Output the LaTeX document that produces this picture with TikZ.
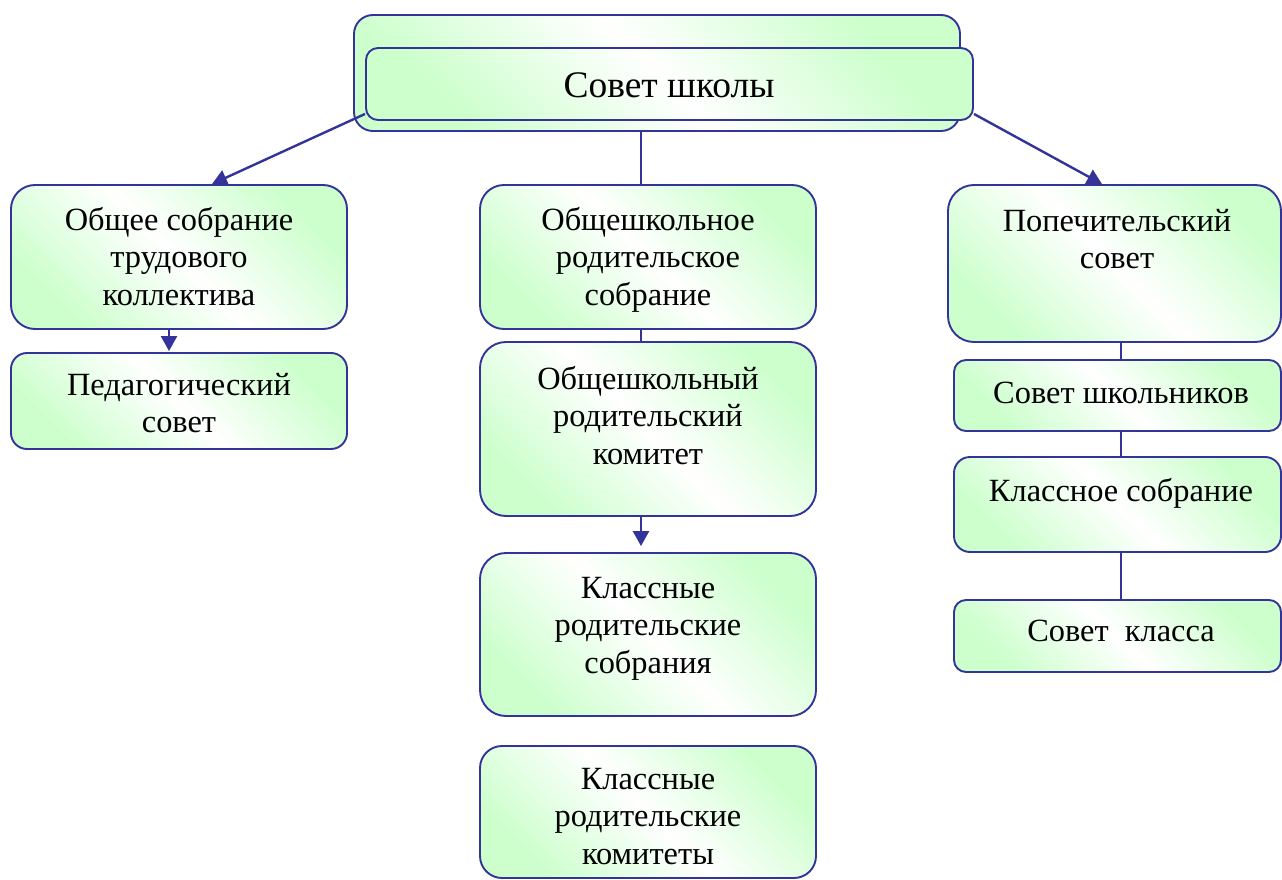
\documentclass[tikz,border=0pt]{standalone}
\usepackage{fontspec}
\setmainfont{Liberation Serif}
\usetikzlibrary{arrows.meta}
\definecolor{lineblue}{RGB}{51,51,153}
\definecolor{ltgreen}{RGB}{204,255,204}
\tikzset{
  box/.style={draw=lineblue, line width=1.9pt, top color=ltgreen, bottom color=ltgreen, middle color=white, shading angle=-45, inner sep=0pt},
  txt/.style={align=center, font=\fontsize{32.4}{37.5}\selectfont, inner sep=0pt, anchor=north},
  link/.style={draw=lineblue, line width=2.4pt},
  arr/.style={link, -{Triangle[length=15pt,width=16pt]}}
}
\newcommand{\bx}[6]{% name, x1, y1, x2, y2, radius
  \node[box, rounded corners=#6, minimum width={(#4-#2)*1pt}, minimum height={(#5-#3)*1pt}] (#1) at ({(#2+#4)/2},{(#3+#5)/2}) {};}
\begin{document}
\begin{tikzpicture}[x=1pt,y=-1pt]
\useasboundingbox (0,0) rectangle (1282,880);
% top
\bx{topback}{354}{15}{960}{131}{19pt}
\bx{top}{366}{48}{973}{120}{12pt}
\node[txt, anchor=center, font=\fontsize{37.5}{42}\selectfont] (toptxt) at (669,85) {Совет школы};
% left
\bx{obsh}{11}{185}{347}{329}{24pt}
\bx{ped}{11}{353}{347}{449}{16pt}
% middle
\bx{osob}{480}{185}{816}{329}{24pt}
\bx{okom}{480}{342}{816}{516}{26pt}
\bx{ksob}{480}{553}{816}{716}{26pt}
\bx{kkom}{480}{746}{816}{878}{22pt}
% right
\bx{pop}{948}{185}{1281}{342}{26pt}
\bx{sshk}{954}{360}{1281}{431}{12pt}
\bx{ksobr}{954}{457}{1281}{552}{16pt}
\bx{skl}{954}{600}{1281}{672}{12pt}
% texts
\node[txt] (t1) at (179,207) {Общее собрание\\трудового\\коллектива};
\node[txt] (t2) at (179,373) {Педагогический\\совет};
\node[txt] (t3) at (648,207) {Общешкольное\\родительское\\собрание};
\node[txt] (t4) at (648,366) {Общешкольный\\родительский\\комитет};
\node[txt] (t5) at (648,577) {Классные\\родительские\\собрания};
\node[txt] (t6) at (648,768) {Классные\\родительские\\комитеты};
\node[txt] (t7) at (1117,209) {Попечительский\\совет};
\node[txt] (t8) at (1121,382) {Совет школьников};
\node[txt] (t9) at (1121,478) {Классное собрание};
\node[txt] (t10) at (1121,620) {Совет\ \ класса};
% connectors
\draw[arr] ([yshift=7pt]top.south west) -- (obsh.north -| 212,0);
\draw[link] (topback.south -| 641,0) -- (osob.north -| 641,0);
\draw[arr] ([yshift=7pt]top.south east) -- (pop.north -| 1102,0);
\draw[arr] (obsh.south -| 169,0) -- ([yshift=1pt]ped.north -| 169,0);
\draw[link] (osob.south -| 641,0) -- (okom.north -| 641,0);
\draw[arr] (okom.south -| 641,0) -- ([yshift=6pt]ksob.north -| 641,0);
\draw[link] (pop.south -| 1121,0) -- (sshk.north -| 1121,0);
\draw[link] (sshk.south -| 1121,0) -- (ksobr.north -| 1121,0);
\draw[link] (ksobr.south -| 1121,0) -- (skl.north -| 1121,0);
\end{tikzpicture}
\end{document}
